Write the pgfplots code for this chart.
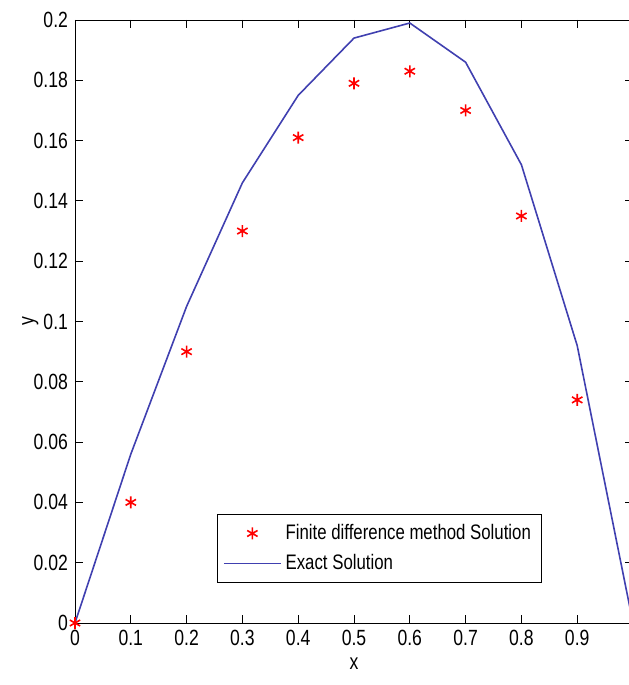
\documentclass[border=0pt]{standalone}
\usepackage{pgfplots}
\pgfplotsset{compat=1.18}
\usepackage{fontspec}
\setmainfont{Liberation Sans}[FakeStretch=0.8]
\definecolor{exactblue}{RGB}{64,64,176}
\begin{document}
\begin{tikzpicture}
\begin{axis}[
  scale only axis,
  width=279pt, height=301.5pt,
  xmin=0, xmax=1, ymin=0, ymax=0.2,
  xtick={0,0.1,...,1}, ytick={0,0.02,...,0.2},
  xticklabels={0,0.1,0.2,0.3,0.4,0.5,0.6,0.7,0.8,0.9,{}},
  yticklabels={0,0.02,0.04,0.06,0.08,0.1,0.12,0.14,0.16,0.18,0.2},
  tick align=inside, tick pos=both,
  major tick length=4pt,
  tick style={black, thin},
  axis line style={black, thin},
  ticklabel style={font=\fontsize{11}{12}\selectfont},
  label style={font=\fontsize{11}{12}\selectfont},
  xlabel={x}, ylabel={y},
  xlabel style={at={(axis description cs:0.5,0)}, anchor=north, yshift=-14pt},
  ylabel style={at={(axis description cs:-0.08,0.5)}, anchor=center},
  legend style={at={(0.254,0.066)}, anchor=south west, draw=black, thin,
    font=\fontsize{10.5}{12}\selectfont, inner sep=3pt, row sep=2pt},
  legend image code/.code={\draw[mark repeat=2, mark phase=2, #1]
    plot coordinates {(0cm,0cm) (0.5cm,0cm) (1cm,0cm)};},
  legend cell align=left,
]
\addplot[only marks, mark=asterisk, mark size=3pt, red, thick] coordinates {
  (0,0) (0.1,0.040) (0.2,0.090) (0.3,0.130) (0.4,0.161) (0.5,0.179)
  (0.6,0.183) (0.7,0.170) (0.8,0.135) (0.9,0.074)
};
\addlegendentry{Finite difference method Solution}
\addplot[exactblue, line width=0.8pt] coordinates {
  (0,0) (0.1,0.056) (0.2,0.105) (0.3,0.146) (0.4,0.175) (0.5,0.194)
  (0.6,0.199) (0.7,0.186) (0.8,0.152) (0.9,0.092) (1,0)
};
\addlegendentry{Exact Solution}
\end{axis}
\pgfresetboundingbox
\useasboundingbox ([shift={(-37.5pt,-31pt)}]current axis.south west) rectangle ([shift={(-2.5pt,10pt)}]current axis.north east);
\end{tikzpicture}
\end{document}
